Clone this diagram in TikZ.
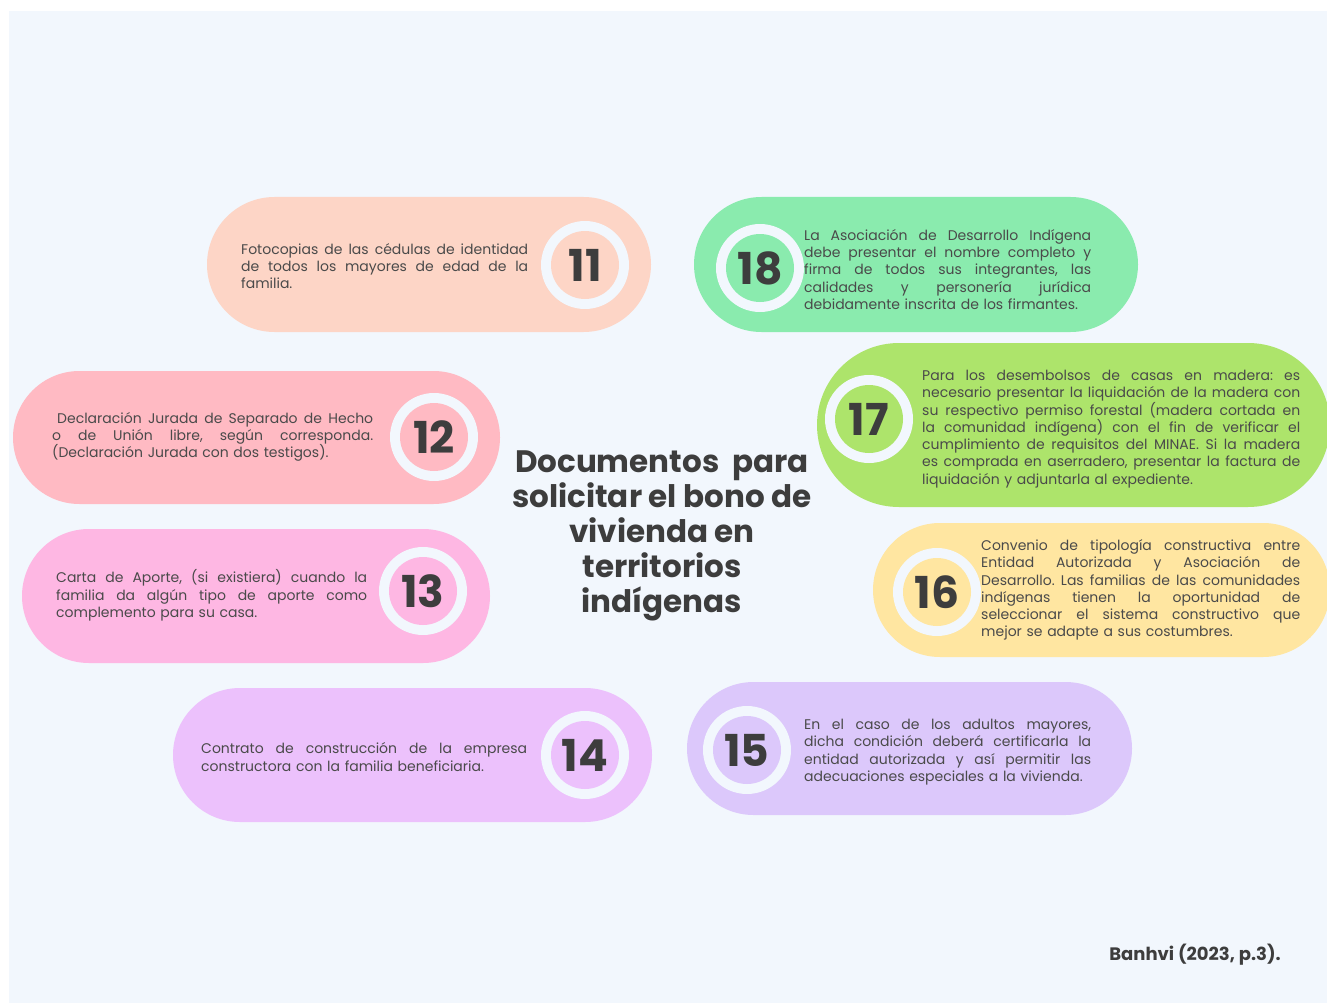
\documentclass[tikz,border=0pt]{standalone}
\usepackage{fontspec}
\setmainfont{Poppins}
\usepackage{tikz}
\usetikzlibrary{positioning}
\definecolor{bgblue}{HTML}{F2F7FD}
\definecolor{peach}{HTML}{FDD5C6}
\definecolor{mint}{HTML}{8AEBAE}
\definecolor{rosy}{HTML}{FFBAC3}
\definecolor{lime}{HTML}{ADE46B}
\definecolor{candy}{HTML}{FEB7E3}
\definecolor{butter}{HTML}{FFE6A1}
\definecolor{orchid}{HTML}{ECC1FC}
\definecolor{lilac}{HTML}{DCC8FB}
\definecolor{ink}{HTML}{3D3D3D}
\definecolor{gris}{HTML}{4A4A4A}
\frenchspacing
\newcommand{\jl}[1]{\makebox[\hsize][s]{\spaceskip=\fontdimen2\font plus 1fil\relax
  \xspaceskip=\spaceskip #1}\newline}
\tikzset{
  pill/.style 2 args={rectangle, minimum width=#1, minimum height=#2,
    rounded corners=#2/2, inner sep=0pt},
  ring/.style={circle, fill=bgblue, minimum size=88pt, inner sep=0pt},
  disc/.style={circle, minimum size=68pt, inner sep=0pt, text=ink,
    font=\fontsize{44}{44}\selectfont\bfseries},
  blurb/.style={anchor=west, text width=#1, align=left, inner sep=0pt,
    text=gris, font=\fontsize{14}{17.3}\selectfont},
  heading/.style={align=center, text=ink,
    font=\fontsize{31}{35}\selectfont\bfseries}
}

\begin{document}
\begin{tikzpicture}[x=1pt, y=-1pt]
  \useasboundingbox (0,0) rectangle (1327,1003);
  \fill[bgblue] (9,11) rectangle (1327,1003);

  \node[pill={444pt}{135pt}, fill=peach] (p11) at (429,264.5) {};
  \node[ring] (r11) at (585,265) {};
  \node[disc, fill=peach] (n11) at (r11) {11};
  \node[blurb=287pt] (t11) at (241,266) {\jl{Fotocopias de las cédulas de identidad}%
    \jl{de todos los mayores de edad de la}familia.};

  \node[pill={444pt}{135pt}, fill=mint] (p18) at (916,264.5) {};
  \node[ring] (r18) at (760,268) {};
  \node[disc, fill=mint] (n18) at (r18) {18};
  \node[blurb=287pt] (t18) at (804,269.5) {\makebox[287pt][s]{\spaceskip=\fontdimen2\font plus 1fil\relax La Asociación de Desarrollo Indígena}\newline
    \jl{debe presentar el nombre completo y}%
    \jl{firma de todos sus integrantes, las}%
    \jl{calidades y personería jurídica}%
    debidamente inscrita de los firmantes.};

  \node[pill={487pt}{133pt}, fill=rosy] (p12) at (256.5,437.5) {};
  \node[ring] (r12) at (434,437) {};
  \node[disc, fill=rosy] (n12) at (r12) {12};
  \node[blurb=321pt] (t12) at (52,437) {\jl{\hspace*{5pt}Declaración Jurada de Separado de Hecho}%
    \jl{o de Unión libre, según corresponda.}%
    (Declaración Jurada con dos testigos).};

  \node[pill={513pt}{164pt}, fill=lime] (p17) at (1073.5,425) {};
  \node[ring] (r17) at (869,419) {};
  \node[disc, fill=lime] (n17) at (r17) {17};
  \node[blurb=378pt] (t17) at (922,429) {\jl{Para los desembolsos de casas en madera: es}%
    \jl{necesario presentar la liquidación de la madera con}%
    \jl{su respectivo permiso forestal (madera cortada en}%
    \jl{la comunidad indígena) con el fin de verificar el}%
    \jl{cumplimiento de requisitos del MINAE. Si la madera}%
    \jl{es comprada en aserradero, presentar la factura de}%
    liquidación y adjuntarla al expediente.};

  \node[pill={468pt}{134pt}, fill=candy] (p13) at (256,596) {};
  \node[ring] (r13) at (423,591) {};
  \node[disc, fill=candy] (n13) at (r13) {13};
  \node[blurb=311pt] (t13) at (56,595.5) {\jl{Carta de Aporte, (si existiera) cuando la}%
    \jl{familia da algún tipo de aporte como}%
    complemento para su casa.};

  \node[pill={457pt}{134pt}, fill=butter] (p16) at (1101.5,590) {};
  \node[ring] (r16) at (937,592) {};
  \node[disc, fill=butter] (n16) at (r16) {16};
  \node[blurb=319pt] (t16) at (981,590) {\jl{Convenio de tipología constructiva entre}%
    \jl{Entidad Autorizada y Asociación de}%
    \jl{Desarrollo. Las familias de las comunidades}%
    \jl{indígenas tienen la oportunidad de}%
    \jl{seleccionar el sistema constructivo que}%
    mejor se adapte a sus costumbres.};

  \node[pill={479pt}{134pt}, fill=orchid] (p14) at (412.5,755) {};
  \node[ring] (r14) at (585,755) {};
  \node[disc, fill=orchid] (n14) at (r14) {14};
  \node[blurb=326pt] (t14) at (201,757) {\jl{Contrato de construcción de la empresa}%
    constructora con la familia beneficiaria.};

  \node[pill={445pt}{133pt}, fill=lilac] (p15) at (909.5,748.5) {};
  \node[ring] (r15) at (747,750) {};
  \node[disc, fill=lilac] (n15) at (r15) {15};
  \node[blurb=287pt] (t15) at (804,752) {\jl{En el caso de los adultos mayores,}%
    \jl{dicha condición deberá certificarla la}%
    \jl{entidad autorizada y así permitir las}%
    adecuaciones especiales a la vivienda.};

  \node[heading] (title) at (662,536) {Documentos\ \ para\\ solicitar el bono de\\
    vivienda en\\ territorios\\ indígenas};

  \node[text=ink, font=\fontsize{18}{18}\selectfont\bfseries] (cite) at (1195,955) {Banhvi (2023, p.3).};
\end{tikzpicture}
\end{document}
